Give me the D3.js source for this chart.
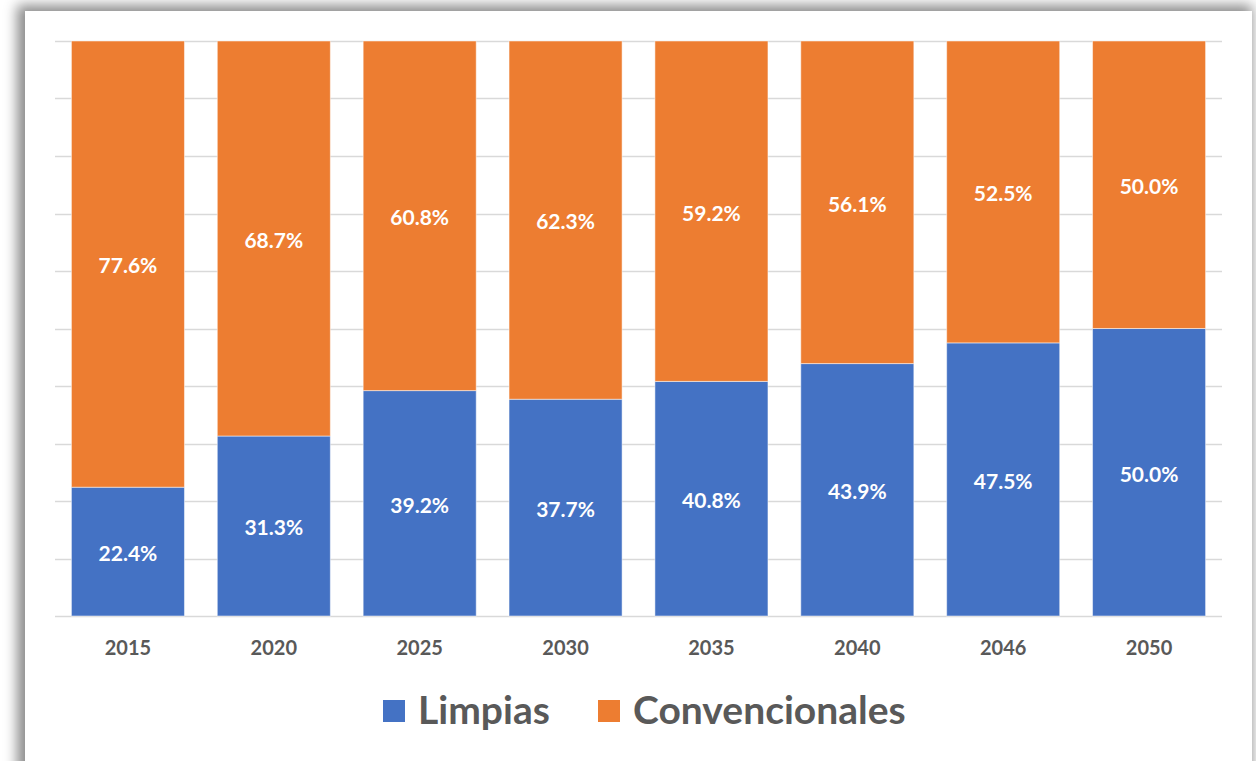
<!DOCTYPE html>
<html>
<head>
<meta charset="utf-8">
<script src="https://cdn.jsdelivr.net/npm/d3@7"></script>
<style>
  html, body { margin: 0; padding: 0; background: #fff; overflow: hidden; }
  #frame {
    position: absolute; left: 25px; top: 11px; width: 1227px; height: 780px;
    background: #fff;
    box-shadow: -4px -2px 12px 4px rgba(0,0,0,0.45);
  }
  svg { position: absolute; left: 0; top: 0; }
  text { font-family: Lato, "Open Sans", sans-serif; font-weight: 700; }
</style>
</head>
<body>
<div id="frame"></div>
<svg id="chart" width="1256" height="761"></svg>
<script>
var years = ["2015", "2020", "2025", "2030", "2035", "2040", "2046", "2050"];
var limpias = [22.4, 31.3, 39.2, 37.7, 40.8, 43.9, 47.5, 50.0];
var convencionales = [77.6, 68.7, 60.8, 62.3, 59.2, 56.1, 52.5, 50.0];
var seriesNames = ["Limpias", "Convencionales"];
var seriesColors = ["#4472c4", "#ed7d31"];

function drawChart() {
  var svg = d3.select("#chart");
  var plotLeft = 55, plotRight = 1222, plotTop = 41, plotBottom = 616;

  var x = d3.scaleBand().domain(years).range([plotLeft, plotRight]).paddingInner(0.225).paddingOuter(0.1125);
  var y = d3.scaleLinear().domain([0, 100]).range([plotBottom, plotTop]);

  // gridlines
  svg.append("g").selectAll("line")
    .data(d3.range(0, 101, 10))
    .enter().append("line")
    .attr("x1", plotLeft).attr("x2", plotRight)
    .attr("y1", function(d) { return Math.round(y(d)) + 0.5; })
    .attr("y2", function(d) { return Math.round(y(d)) + 0.5; })
    .attr("stroke", "#d9d9d9").attr("stroke-width", 1.5);

  var rows = years.map(function(yr, i) {
    return { year: yr, Limpias: limpias[i], Convencionales: convencionales[i] };
  });
  var stacked = d3.stack().keys(seriesNames)(rows);

  var groups = svg.append("g").selectAll("g")
    .data(stacked)
    .enter().append("g")
    .attr("fill", function(d, i) { return seriesColors[i]; });

  groups.selectAll("rect")
    .data(function(d) { return d; })
    .enter().append("rect")
    .attr("x", function(d) { return x(d.data.year); })
    .attr("width", x.bandwidth())
    .attr("y", function(d) { return y(d[1]); })
    .attr("height", function(d) { return y(d[0]) - y(d[1]); })
    .attr("stroke", "#ffffff").attr("stroke-opacity", 0.5).attr("stroke-width", 1);

  groups.selectAll("text")
    .data(function(d) { return d; })
    .enter().append("text")
    .attr("x", function(d) { return x(d.data.year) + x.bandwidth() / 2; })
    .attr("y", function(d) { return (y(d[0]) + y(d[1])) / 2 + 2; })
    .attr("dy", "0.35em")
    .attr("text-anchor", "middle")
    .attr("fill", "#ffffff")
    .attr("font-size", 21)
    .text(function(d) { return (d[1] - d[0]).toFixed(1) + "%"; });

  // x axis
  var xAxis = svg.append("g")
    .attr("transform", "translate(0," + plotBottom + ")")
    .call(d3.axisBottom(x).tickSize(0).tickPadding(25));
  xAxis.select(".domain").remove();
  xAxis.selectAll("text")
    .attr("fill", "#595959")
    .attr("font-size", 20)
    .style("font-family", "Lato, 'Open Sans', sans-serif")
    .style("font-weight", 700);

  // legend
  var legend = svg.append("g");
  var legendX = [383, 598];
  seriesNames.forEach(function(name, i) {
    legend.append("rect")
      .attr("x", legendX[i]).attr("y", 700)
      .attr("width", 22).attr("height", 22)
      .attr("fill", seriesColors[i]);
    legend.append("text")
      .attr("x", legendX[i] + 35).attr("y", 724)
      .attr("fill", "#595959")
      .attr("font-size", 39)
      .text(name);
  });
}
drawChart();
</script>
</body>
</html>
